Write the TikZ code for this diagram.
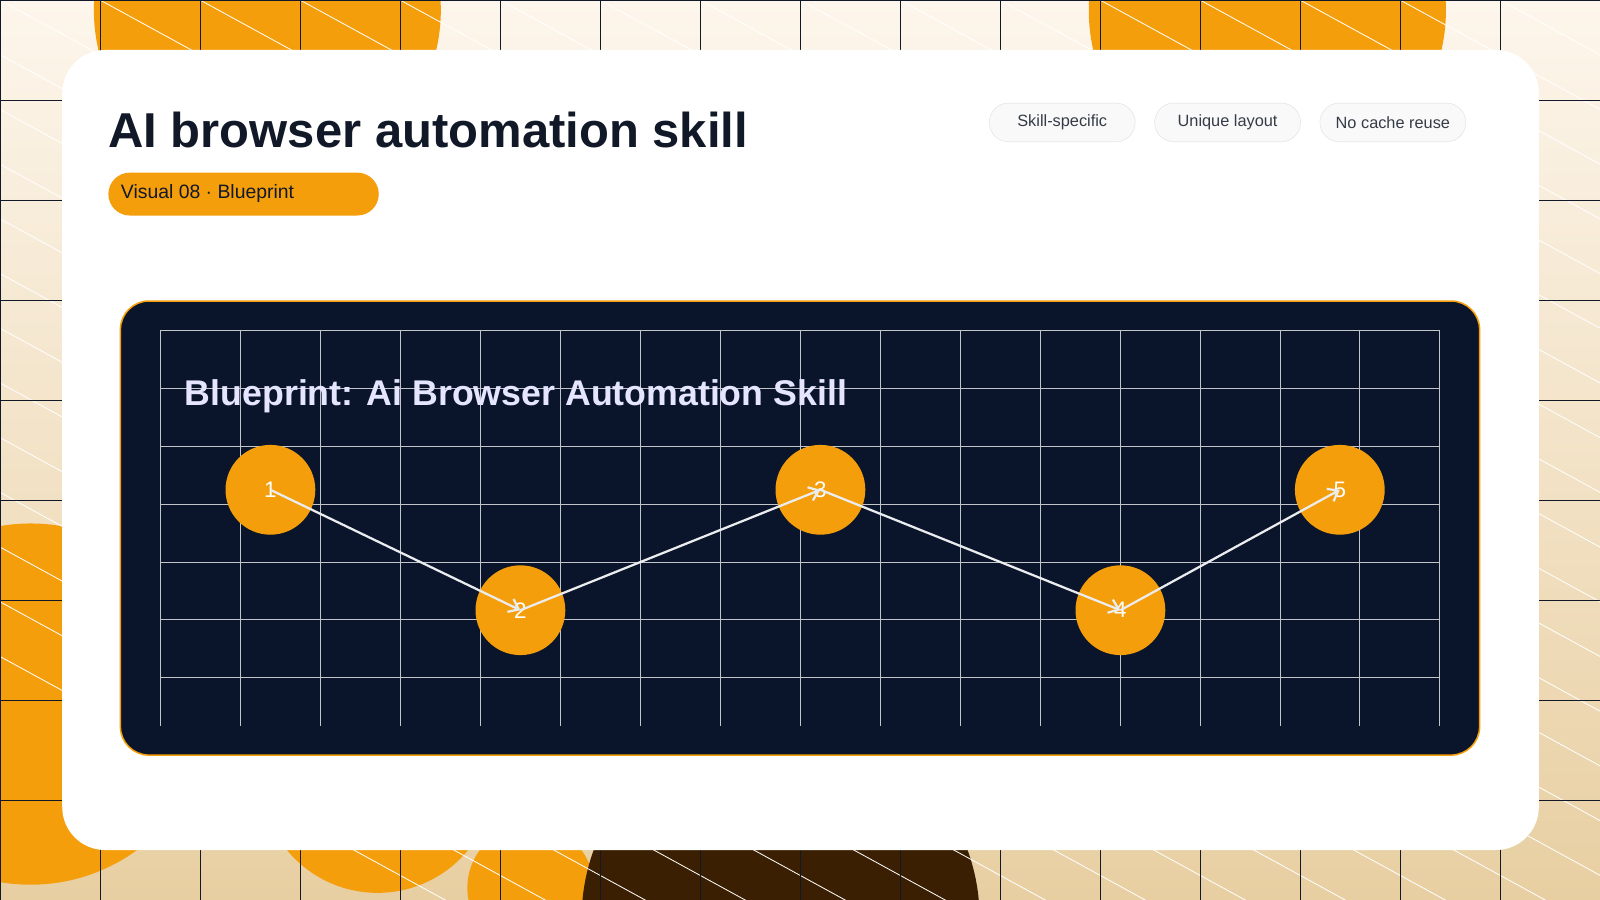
\documentclass[tikz,border=0pt]{standalone}
\usepackage{fontspec}
\setmainfont{Liberation Sans}
\usetikzlibrary{arrows.meta}
\definecolor{org}{HTML}{F59E0B}
\definecolor{navy}{HTML}{0A152C}
\definecolor{ink}{HTML}{111827}
\definecolor{cream}{HTML}{FDF6EC}
\definecolor{sand}{HTML}{E8CFA2}
\definecolor{brown}{HTML}{3B1F02}
\begin{document}
\begin{tikzpicture}[x=1pt,y=-1pt,
  step node/.style={circle,fill=org,minimum size=88pt,inner sep=0pt,text=white,font=\fontsize{22}{22}\selectfont},
  tag/.style={rounded corners=19pt,draw=gray!25,fill=gray!5,minimum width=143pt,minimum height=38pt,font=\fontsize{16}{16}\selectfont,text=ink!85},
  flow/.style={draw=white!92!navy,line width=2.2pt,-{Straight Barb[length=9pt,width=14pt]}}]
\useasboundingbox (0,0) rectangle (1568,882);
\shade[top color=cream,bottom color=sand] (0,0) rectangle (1568,882);
\begin{scope}
\clip (0,0) rectangle (1568,882);
\fill[org] (262,10) circle (170);
\fill[org] (1242,10) circle (175);
\fill[org] (30,690) circle (177);
\fill[org] (370,760) circle (115);
\fill[org] (520,870) circle (62);
\fill[brown] (765,900) circle (195);
\fill[brown] (655,820) circle (45);
\foreach \i in {-12,...,16} \draw[white,line width=0.8pt] (98*\i,0) -- ++(1700,930);
\foreach \x in {0,98,...,1568} \draw[ink,line width=0.6pt] (\x,0) -- (\x,882);
\foreach \y in {0,98,...,882} \draw[ink,line width=0.6pt] (0,\y) -- (1568,\y);
\end{scope}
\fill[white] (61,49) [rounded corners=42pt] rectangle (1508,833);
\node[anchor=base west,text=ink,font=\bfseries\fontsize{48}{48}\selectfont,inner sep=0pt] (title) at (106,145) {AI browser automation skill};
\node[rounded corners=21pt,fill=org,anchor=north west,minimum width=265pt,minimum height=42pt,inner sep=0pt] (badge) at (106,169) {};
\node[anchor=west,text=ink,font=\fontsize{19}{19}\selectfont] (badgetext) at (115,190) {Visual 08 · Blueprint};
\node[tag] (t1) at (1041,120) {Skill-specific};
\node[tag] (t2) at (1203,120) {Unique layout};
\node[tag] (t3) at (1365,120) {No cache reuse};
\draw[org,fill=navy,line width=1.5pt,rounded corners=28pt] (118,295) rectangle (1450,740);
\foreach \i in {0,...,16} \draw[white!75!navy,line width=0.7pt] (157+78.375*\i,324) -- (157+78.375*\i,711);
\foreach \y in {324,381,437,494,551,607,664} \draw[white!75!navy,line width=0.7pt] (157,\y) -- (1411,\y);
\node[anchor=base west,text=white!90!blue,font=\bfseries\fontsize{35}{35}\selectfont,inner sep=0pt] (ptitle) at (181,397) {Blueprint: Ai Browser Automation Skill};
\node[step node] (n1) at (265,480) {1};
\node[step node] (n2) at (510,598) {2};
\node[step node] (n3) at (804,480) {3};
\node[step node] (n4) at (1098,598) {4};
\node[step node] (n5) at (1313,480) {5};
\draw[flow] (n1.center) -- (n2.center);
\draw[flow] (n2.center) -- (n3.center);
\draw[flow] (n3.center) -- (n4.center);
\draw[flow] (n4.center) -- (n5.center);
\end{tikzpicture}
\end{document}
